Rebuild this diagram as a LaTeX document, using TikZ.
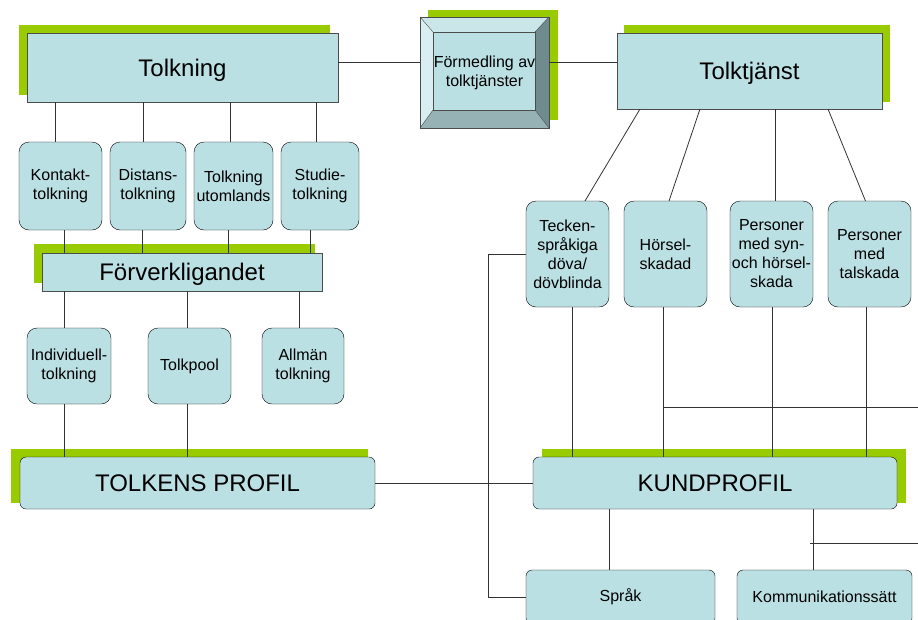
\documentclass[tikz,border=0pt]{standalone}
\usepackage{fontspec}
\setmainfont{Liberation Sans}
\usepackage{xcolor}
\usetikzlibrary{positioning,calc,backgrounds}
\definecolor{boxfill}{HTML}{BBE0E3}
\definecolor{leaf}{HTML}{99CC00}
\definecolor{bevlight}{HTML}{D8EEF0}
\definecolor{bevtop}{HTML}{CBE6E8}
\definecolor{bevdark}{HTML}{6F8B8D}
\definecolor{bevlow}{HTML}{96B2B4}

\begin{document}
\begin{tikzpicture}[x=1pt,y=-1pt,
  every node/.style={font=\fontsize{16}{19}\selectfont},
  big/.style={
    rectangle, draw=black!70, fill=boxfill, inner sep=0pt, outer sep=0pt,
    font=\fontsize{24}{28}\selectfont
  },
  title/.style={big, text depth=0pt},
  pill/.style={
    rectangle, rounded corners=10pt, draw=black, fill=boxfill,
    align=center, inner sep=0pt, outer sep=0pt, minimum width=83pt
  },
  profile/.style={big, draw=black, rounded corners=6pt, minimum height=52pt},
  link/.style={draw=black!80, line width=0.8pt}
]
\useasboundingbox (0,0) rectangle (918,619);

% top level
\node[title, minimum width=311pt, minimum height=69pt] (tk) at (182.5,67.5) {Tolkning};
\node[big, minimum width=129pt, minimum height=111pt, align=center,
      font=\fontsize{16}{19}\selectfont] (fmd) at (484.5,72.5) {Förmedling av\\tolktjänster};
\node[title, minimum width=265pt, minimum height=76pt] (tj) at (749.5,71) {Tolktjänst};

% bevel of the middle box
\fill[bevtop] (fmd.north west) -- (fmd.north east) -- ($(fmd.north east)+(-14,15)$) -- ($(fmd.north west)+(13,15)$) -- cycle;
\fill[bevlight] (fmd.north west) -- ($(fmd.north west)+(13,15)$) -- ($(fmd.south west)+(13,-18)$) -- (fmd.south west) -- cycle;
\fill[bevdark] (fmd.north east) -- ($(fmd.north east)+(-14,15)$) -- ($(fmd.south east)+(-14,-18)$) -- (fmd.south east) -- cycle;
\fill[bevlow] (fmd.south west) -- ($(fmd.south west)+(13,-18)$) -- ($(fmd.south east)+(-14,-18)$) -- (fmd.south east) -- cycle;
\draw[black!70] ($(fmd.north west)+(13,15)$) rectangle ($(fmd.south east)+(-14,-18)$);
\draw[black!70] (fmd.north west) -- ($(fmd.north west)+(13,15)$)
  (fmd.north east) -- ($(fmd.north east)+(-14,15)$)
  (fmd.south west) -- ($(fmd.south west)+(13,-18)$)
  (fmd.south east) -- ($(fmd.south east)+(-14,-18)$);
\draw[black!70] (fmd.north west) rectangle (fmd.south east);

% interpreting forms
\node[pill, minimum height=88pt] (kon) at (60.5,186) {Kontakt-\\tolkning};
\node[pill, minimum height=88pt, minimum width=76pt, right=8pt of kon] (dis) {Distans-\\tolkning};
\node[pill, minimum height=88pt, minimum width=79pt, right=8pt of dis] (utl) {Tolkning\\utomlands};
\node[pill, minimum height=88pt, minimum width=78pt, right=8pt of utl] (stu) {Studie-\\tolkning};

\node[title, minimum width=280pt, minimum height=38pt] (fv) at (182,272) {Förverkligandet};

\node[pill, minimum height=76pt, minimum width=84pt] (ind) at (69,366) {Individuell-\\tolkning};
\node[pill, minimum height=76pt, right=37pt of ind] (pool) {Tolkpool};
\node[pill, minimum height=76pt, minimum width=82pt, right=31pt of pool] (allm) {Allmän\\tolkning};

\node[profile, minimum width=355pt] (tp) at (197.5,483) {TOLKENS PROFIL};

% client groups
\node[pill, minimum height=106pt] (tec) at (567.5,254) {Tecken-\\språkiga\\döva/\\dövblinda};
\node[pill, minimum height=106pt, right=15pt of tec] (hor) {Hörsel-\\skadad};
\node[pill, minimum height=106pt, right=23pt of hor] (per) {Personer\\med syn-\\och hörsel-\\skada};
\node[pill, minimum height=106pt, right=15pt of per] (tal) {Personer\\med\\talskada};

\node[profile, minimum width=364pt] (kp) at (715,483) {KUNDPROFIL};

\node[pill, rounded corners=6pt, minimum width=189pt, minimum height=54pt] (sprak) at (620.5,597) {Språk};
\node[pill, rounded corners=6pt, minimum width=175pt, minimum height=54pt] (komm) at (824.5,597) {Kommunikationssätt};

% green shadows
\begin{scope}[on background layer]
\fill[leaf] ($(tk.north west)+(-8,-8)$) rectangle ($(tk.south east)+(-8,-7)$);
\fill[leaf] ($(fmd.north west)+(8,-7)$) rectangle ($(fmd.south east)+(9,-8)$);
\fill[leaf] ($(tj.north west)+(7,-8)$) rectangle ($(tj.south east)+(8,-7)$);
\fill[leaf] ($(fv.north west)+(-8,-9)$) rectangle ($(fv.south east)+(-7,-8)$);
\fill[leaf] ($(tp.north west)+(-9,-8)$) rectangle ($(tp.south east)+(-7,-6)$);
\fill[leaf] ($(kp.north west)+(9,-8)$) rectangle ($(kp.south east)+(9,-6)$);
\end{scope}

% connectors
\draw[link] ([yshift=5pt]tk.east) -- ([yshift=5pt]tk.east -| fmd.west);
\draw[link] ([yshift=5pt]tk.east -| fmd.east) -- ([yshift=5pt]tk.east -| tj.west);

\foreach \n/\a in {kon/-5.5, dis/-5, utl/-3.5, stu/-4}
  \draw[link] ([xshift=\a pt]\n.north |- tk.south) -- ([xshift=\a pt]\n.north);
\foreach \n/\a in {kon/3.5, dis/-6, utl/-5.5, stu/-10}
  \draw[link] ([xshift=\a pt]\n.south) -- ([xshift=\a pt]\n.south |- fv.north);
\foreach \n/\a in {ind/-5, pool/-2.5, allm/-4}
  \draw[link] ([xshift=\a pt]\n.north |- fv.south) -- ([xshift=\a pt]\n.north);
\foreach \n/\a in {ind/-5, pool/-2.5}
  \draw[link] ([xshift=\a pt]\n.south) -- ([xshift=\a pt]\n.south |- tp.north);

\draw[link] (tp.east) -- (kp.west);

\foreach \n/\a/\b in {tec/-109.5/17.5, hor/-49.5/3.5, per/25.5/3.5, tal/78.5/-4}
  \draw[link] ($(tj.south)+(\a,0)$) -- ($(\n.north)+(\b,0)$);
\foreach \n/\a in {tec/4.5, hor/-2.5, per/0.5, tal/-3}
  \draw[link] ([xshift=\a pt]\n.south) -- ([xshift=\a pt]\n.south |- kp.north);

\draw[link] ([xshift=-11.5pt]sprak.north |- kp.south) -- ([xshift=-11.5pt]sprak.north);
\draw[link] ([xshift=-11.5pt]komm.north |- kp.south) -- ([xshift=-11.5pt]komm.north);
\draw[link] (tec.west) -- ++(-38,0) |- (sprak.west);

\coordinate (cut1) at (918,407);
\coordinate (cut2) at (918,543);
\draw[link] (cut1) -- ([xshift=-2pt]cut1 -| hor.south);
\draw[link] (cut2) -- ([xshift=-15pt]cut2 -| komm.north);
\end{tikzpicture}
\end{document}
